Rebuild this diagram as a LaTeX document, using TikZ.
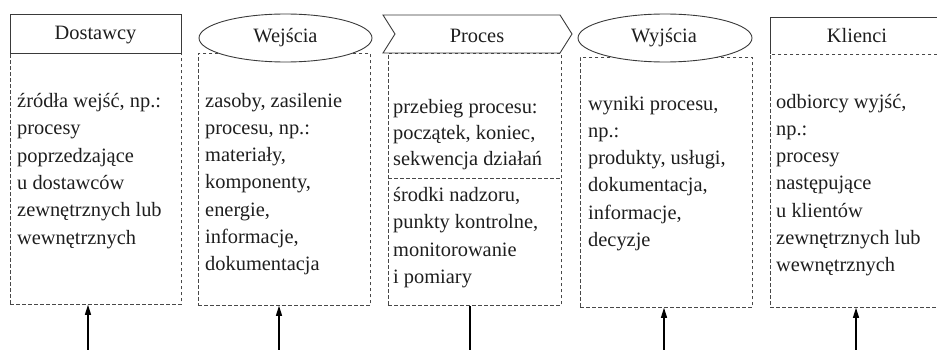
\documentclass[tikz,border=0pt]{standalone}
\usepackage{fontspec}
\setmainfont{Liberation Serif}
\usetikzlibrary{arrows.meta,shapes.geometric}
\definecolor{ink}{HTML}{1E1E1E}
\definecolor{frame}{HTML}{3A3A3A}
\definecolor{dashc}{HTML}{484848}
\begin{document}
\begin{tikzpicture}[x=1pt,y=-1pt,
  headbox/.style={draw=frame, line width=0.9pt, fill=white},
  dashline/.style={draw=dashc, line width=0.8pt, dash pattern=on 3.5pt off 2.5pt},
  bodybox/.style={dashline, anchor=north west, inner sep=0pt},
  % multi-line texts are placed by the baseline of their last line
  body/.style={anchor=base west, inner sep=0pt, align=left, text=ink,
    font=\fontsize{20.4}{27.3}\selectfont},
  title/.style={anchor=base, inner sep=0pt, text=ink, font=\fontsize{20.4}{24}\selectfont},
  feed/.style={draw=black, line width=1.1pt},
  feedin/.style={feed, -{Triangle[length=10pt,width=6pt]}},
  ]
\clip (0,0) rectangle (937,350);

% dashed body frames
\node[bodybox, minimum width=171pt, minimum height=251pt] (dbody) at (10,53) {};
\node[bodybox, minimum width=172pt, minimum height=252pt] (wbody) at (198,53) {};
\node[bodybox, minimum width=173pt, minimum height=252pt] (pbody) at (388,53) {};
\node[bodybox, minimum width=172pt, minimum height=250pt] (ybody) at (580,57) {};
\node[bodybox, minimum width=200pt, minimum height=253pt] (kbody) at (770,54) {};
\draw[dashline] (388,178.5) -- (561,178.5);

% header shapes
\node[headbox, anchor=north west, minimum width=171pt, minimum height=39pt, inner sep=0pt] (dhead) at (10,14) {};
\node[headbox, ellipse, minimum width=173pt, minimum height=48pt, inner sep=0pt] (whead) at (285.5,38) {};
\draw[headbox] (383,15) -- (560,15) -- (572,34) -- (560,53) -- (383,53) -- (395,34) -- cycle;
\node[headbox, ellipse, minimum width=174pt, minimum height=48pt, inner sep=0pt] (yhead) at (665,38) {};
\draw[frame, line width=0.9pt] (770,54) -- (770,17) -- (950,17);

% header titles
\node[title] (dtitle) at (95.5,40) {Dostawcy};
\node[title] (wtitle) at (285.5,43) {Wejścia};
\node[title] (ptitle) at (477,43) {Proces};
\node[title] (ytitle) at (664,43) {Wyjścia};
\node[title] (ktitle) at (857,43) {Klienci};

% body texts
\node[body] (dtext) at (17,244) {źródła wejść, np.:\\procesy\\poprzedzające\\u dostawców\\zewnętrznych lub\\wewnętrznych};
\node[body] (wtext) at (205,270.8) {zasoby, zasilenie\\procesu, np.:\\materiały,\\komponenty,\\energie,\\informacje,\\dokumentacja};
\node[body, font=\fontsize{20.4}{26}\selectfont] (ptext) at (393,165) {przebieg procesu:\\początek, koniec,\\sekwencja działań};
\node[body, font=\fontsize{20.4}{27.5}\selectfont] (mtext) at (393,283.5) {środki nadzoru,\\punkty kontrolne,\\monitorowanie\\i pomiary};
\node[body] (ytext) at (588,246.5) {wyniki procesu,\\np.:\\produkty, usługi,\\dokumentacja,\\informacje,\\decyzje};
\node[body] (ktext) at (776,271.8) {odbiorcy wyjść,\\np.:\\procesy\\następujące\\u klientów\\zewnętrznych lub\\wewnętrznych};

% incoming lines from below
\coordinate (din) at (88,350);
\coordinate (win) at (279,350);
\coordinate (pin) at (470,350);
\coordinate (yin) at (664,350);
\coordinate (kin) at (856,350);
\draw[feedin] (din) -- (din |- dbody.south);
\draw[feedin] (win) -- (win |- wbody.south);
\draw[feed] (pin) -- (pin |- pbody.south);
\draw[feedin] (yin) -- (yin |- ybody.south);
\draw[feedin] (kin) -- (kin |- kbody.south);
\end{tikzpicture}
\end{document}
